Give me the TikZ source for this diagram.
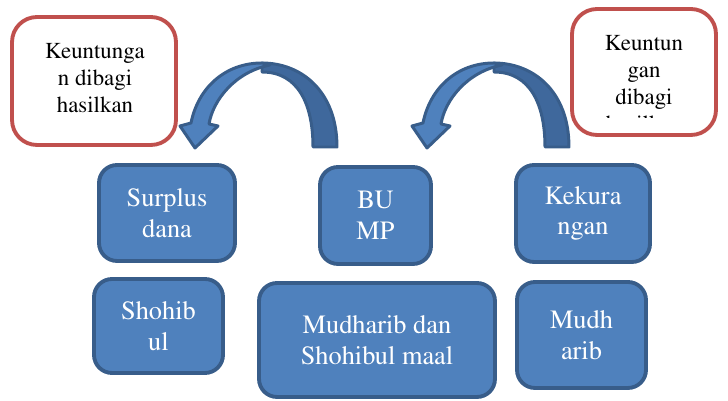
\documentclass[tikz,border=0pt]{standalone}
\usepackage[T1]{fontenc}
\usepackage{mathptmx}
\usepackage{xcolor}
\usetikzlibrary{positioning}

\definecolor{boxblue}{HTML}{4F81BD}
\definecolor{boxedge}{HTML}{385D8A}
\definecolor{backblue}{HTML}{3F689C}
\definecolor{notered}{HTML}{C0504D}

\begin{document}
\begin{tikzpicture}[x=0.02cm, y=-0.02cm,
  bluebox/.style={rectangle, draw=boxedge, fill=boxblue, line width=2.2pt,
                  rounded corners=0.36cm, text=white, align=center, inner sep=0pt,
                  font=\fontsize{15}{17.4}\selectfont},
  notebox/.style={rectangle, draw=notered, fill=white, line width=2.2pt,
                  rounded corners=0.5cm},
  notetext/.style={align=center, anchor=north, inner sep=0pt,
                   font=\fontsize{13}{15.4}\selectfont},
  arrowface/.style={fill=boxblue, draw=boxedge, line width=1.7pt, line join=round},
  arrowback/.style={fill=backblue, draw=boxedge, line width=1.7pt, line join=round}
]
\useasboundingbox (0,0) rectangle (728,401);

% red note boxes
\node[notebox, minimum width=3.28cm, minimum height=2.56cm] (untungL) at (94,81) {};
\node[notetext] (untungLtext) at (95,43) {Keuntunga\\n dibagi\\hasilkan};
\node[notebox, minimum width=2.88cm, minimum height=2.52cm] (untungR) at (644,72) {};
\begin{scope}
  \clip (575,10) rectangle (715,118);
  \node[notetext] (untungRtext) at (644,35) {Keuntun\\gan\\dibagi\\hasilkan};
\end{scope}

% curved arrows
\foreach \dx in {0,232} {
  \begin{scope}[shift={(\dx,0)}]
    \filldraw[arrowback] (337,147) .. controls (337,92) and (302,63) .. (262,63)
      -- (262,72) .. controls (298,72) and (313,104) .. (313,147) -- cycle;
    \filldraw[arrowface] (262,63) .. controls (225,63) and (198,88) .. (191,123)
      -- (180,126) -- (195,148) -- (218,126) -- (209,124)
      .. controls (213,100) and (235,72) .. (270,65) -- cycle;
  \end{scope}
}

% blue boxes
\node[bluebox, minimum width=2.72cm, minimum height=1.92cm] (surplus)  at (167,213)   {Surplus\\dana};
\node[bluebox, minimum width=2.22cm, minimum height=1.94cm] (bump)     at (375.5,215.5) {BU\\MP};
\node[bluebox, minimum width=2.68cm, minimum height=1.94cm] (kurang)   at (583,213.5) {Kekura\\ngan};
\node[bluebox, minimum width=2.58cm, minimum height=1.88cm] (shohibul) at (158.5,326) {Shohib\\ul};
\node[bluebox, minimum width=4.72cm, minimum height=2.28cm] (mudsho)   at (377,340)   {Mudharib dan\\Shohibul maal};
\node[bluebox, minimum width=2.58cm, minimum height=2.12cm] (mudharib) at (581.5,335) {Mudh\\arib};
\end{tikzpicture}
\end{document}
